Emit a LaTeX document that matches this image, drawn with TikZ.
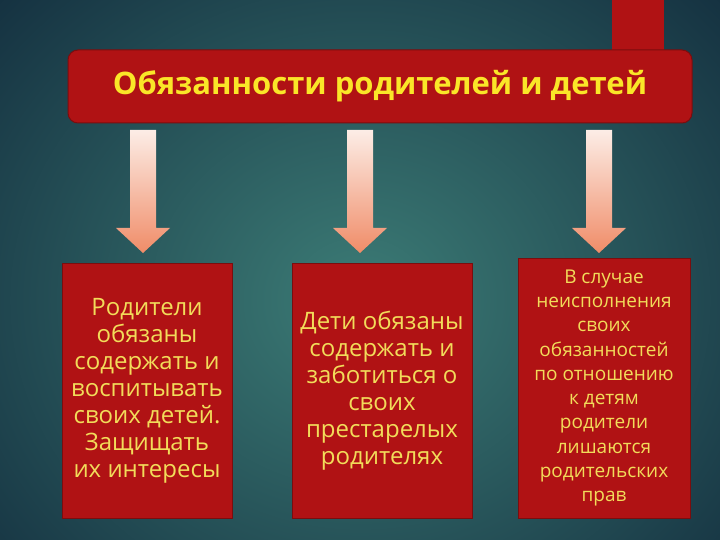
\documentclass[tikz,border=0pt]{standalone}
\usepackage{fontspec}
\setmainfont{Open Sans}
\definecolor{bgin}{HTML}{3C7C76}
\definecolor{bgout}{HTML}{10283A}
\definecolor{boxred}{HTML}{B01214}
\definecolor{txty}{HTML}{F2DC5A}
\definecolor{ttly}{HTML}{FAE628}
\definecolor{arrtop}{HTML}{FCEDE6}
\definecolor{arrbot}{HTML}{F08C68}
\tikzset{
  redbox/.style={fill=boxred,draw=boxred!70!black,line width=1pt},
  btext/.style={text=txty,align=center,font=\fontsize{24}{27}\selectfont},
  arr/.style={top color=arrtop,bottom color=arrbot,draw=none}
}
\begin{document}
\begin{tikzpicture}[x=1pt,y=-1pt]
\useasboundingbox (0,0) rectangle (720,540);
\shade[inner color=bgin,outer color=bgout] (-200,-200) rectangle (920,800);
\clip (0,0) rectangle (720,540);
\fill[boxred] (612,-2) rectangle (664,52);
\node[redbox,rounded corners=10pt,minimum width=624pt,minimum height=73pt,inner sep=0pt] (title) at (380,86.5)
  {\textcolor{ttly}{\bfseries\fontsize{31}{34}\selectfont Обязанности родителей и детей}};
\node[redbox,minimum width=170pt,minimum height=255pt,inner sep=0pt] (b1) at (147,390.5) {};
\node[btext] at (b1) {Родители\\обязаны\\содержать и\\воспитывать\\своих детей.\\Защищать\\их интересы};
\node[redbox,minimum width=180pt,minimum height=255pt,inner sep=0pt] (b2) at (382,390.5) {};
\node[btext] at (b2) {Дети обязаны\\содержать и\\заботиться о\\своих\\престарелых\\родителях};
\node[redbox,minimum width=172pt,minimum height=260pt,inner sep=0pt] (b3) at (604,388) {};
\node[btext,font=\fontsize{19}{24.3}\selectfont] at (b3) {В случае\\неисполнения\\своих\\обязанностей\\по отношению\\к детям\\родители\\лишаются\\родительских\\прав};
\foreach \c/\n in {143/a1,360/a2,599/a3}{
  \shade[arr] (\c-13,130) -- (\c+13,130) -- (\c+13,228) -- (\c+27,228) -- (\c,253) -- (\c-27,228) -- (\c-13,228) -- cycle;
}
\end{tikzpicture}
\end{document}
